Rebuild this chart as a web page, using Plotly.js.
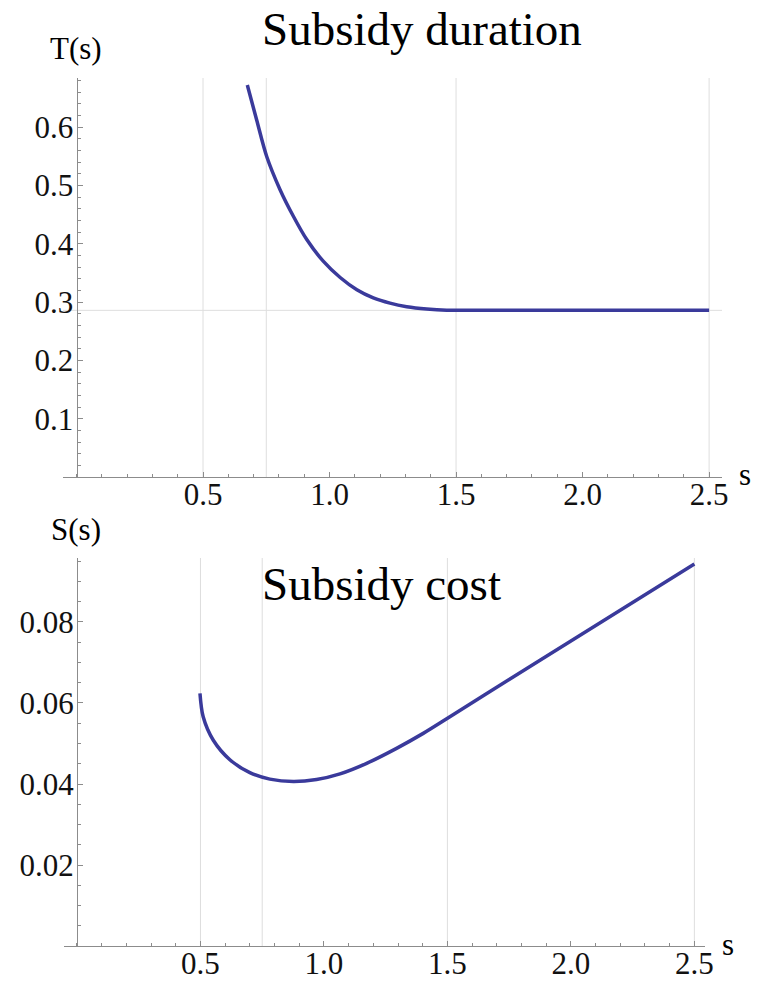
<!DOCTYPE html>
<html>
<head>
<meta charset="utf-8">
<script src="https://cdn.plot.ly/plotly-3.0.1.min.js"></script>
<style>html,body{margin:0;padding:0;background:#fff;}#chart{width:757px;height:982px;}</style>
</head>
<body>
<div id="chart"></div>
<script>
// ---- data ----
const durationS = [0.675, 0.712, 0.752, 0.804, 0.857, 0.910, 0.975, 1.042, 1.108, 1.173, 1.239, 1.305, 1.384, 1.463, 1.50, 2.00, 2.50];
const durationT = [0.672, 0.612, 0.549, 0.493, 0.447, 0.407, 0.370, 0.342, 0.321, 0.307, 0.298, 0.292, 0.288, 0.286, 0.286, 0.286, 0.286];

const costS = [0.498, 0.511, 0.552, 0.619, 0.700, 0.781, 0.876, 0.970, 1.065, 1.173, 1.294, 1.402, 1.510, 1.75, 2.00, 2.25, 2.50];
const costC = [0.0624, 0.0566, 0.0508, 0.0460, 0.0428, 0.0412, 0.0406, 0.0411, 0.0425, 0.0451, 0.0488, 0.0525, 0.0566, 0.0658, 0.0753, 0.0848, 0.0943];

const xTickVals = [0.5, 1.0, 1.5, 2.0, 2.5];
const xTickText = ["0.5", "1.0", "1.5", "2.0", "2.5"];
const yTopTickVals = [0.1, 0.2, 0.3, 0.4, 0.5, 0.6];
const yTopTickText = ["0.1", "0.2", "0.3", "0.4", "0.5", "0.6"];
const yBotTickVals = [0.02, 0.04, 0.06, 0.08];
const yBotTickText = ["0.02", "0.04", "0.06", "0.08"];

const gridX = [0.5, 0.75, 1.5, 2.5];
const gridYTop = [0.2857];

// ---- layout helpers ----
const W = 757, H = 982;
const px = v => v / W;
const py = v => 1 - v / H;
const FONT = "Liberation Serif, Times New Roman, serif";
const lineColor = "rgb(58,58,155)";
const axisGray = "#8c8c8c";
const gridGray = "#dedede";

const baseX = {
  showgrid: false, zeroline: false, showline: true, linecolor: axisGray, linewidth: 1,
  ticks: "inside", ticklen: 5, tickcolor: axisGray, tickwidth: 1,
  tickmode: "array", tickvals: xTickVals, ticktext: xTickText,
  tickfont: {family: FONT, size: 31, color: "#111"},
  ticklabelstandoff: -10,
  minor: {tickmode: "linear", tick0: 0, dtick: 0.1, ticks: "inside", ticklen: 3, tickcolor: axisGray, showgrid: false},
  fixedrange: true
};

const traces = [
  {x: durationS, y: durationT, xaxis: "x", yaxis: "y", mode: "lines", line: {color: lineColor, width: 3.5, shape: "spline", smoothing: 0.9}, hoverinfo: "skip"},
  {x: costS, y: costC, xaxis: "x2", yaxis: "y2", mode: "lines", line: {color: lineColor, width: 3.5, shape: "spline", smoothing: 0.9}, hoverinfo: "skip"}
];

const shapes = [];
gridX.forEach(g => {
  shapes.push({type: "line", xref: "x", yref: "y domain", x0: g, x1: g, y0: 0, y1: 1, line: {color: gridGray, width: 1}, layer: "below"});
  shapes.push({type: "line", xref: "x2", yref: "y2 domain", x0: g, x1: g, y0: 0, y1: 1, line: {color: gridGray, width: 1}, layer: "below"});
});
gridYTop.forEach(g => {
  shapes.push({type: "line", xref: "x domain", yref: "y", x0: 0, x1: 1, y0: g, y1: g, line: {color: gridGray, width: 1}, layer: "below"});
});

const ann = (text, x, y, size, xanchor) => ({
  text, x: px(x), y: py(y), xref: "paper", yref: "paper", showarrow: false,
  xanchor: xanchor || "center", yanchor: "middle", font: {family: FONT, size, color: "#000"}
});

const yBase = {
  showgrid: false, zeroline: false, showline: true, linecolor: axisGray, linewidth: 1,
  ticks: "inside", ticklen: 5, tickcolor: axisGray, tickmode: "array",
  tickfont: {family: FONT, size: 31, color: "#111"},
  ticklabelstandoff: -3,
  fixedrange: true
};

const layout = {
  width: W, height: H,
  margin: {l: 0, r: 0, t: 0, b: 0},
  paper_bgcolor: "#fff", plot_bgcolor: "#fff",
  showlegend: false,
  xaxis: Object.assign({}, baseX, {domain: [px(63), px(722)], range: [-0.0534, 2.551], anchor: "y"}),
  yaxis: Object.assign({}, yBase, {
    domain: [py(477), py(78)], range: [0, 0.684], anchor: "free", position: px(76.5),
    tickvals: yTopTickVals, ticktext: yTopTickText,
    minor: {tickmode: "linear", tick0: 0, dtick: 0.02, ticks: "inside", ticklen: 3, tickcolor: axisGray, showgrid: false}
  }),
  xaxis2: Object.assign({}, baseX, {domain: [px(64), px(705)], range: [-0.0526, 2.543], anchor: "y2"}),
  yaxis2: Object.assign({}, yBase, {
    domain: [py(946), py(558)], range: [0, 0.0958], anchor: "free", position: px(77),
    tickvals: yBotTickVals, ticktext: yBotTickText,
    minor: {tickmode: "linear", tick0: 0, dtick: 0.005, ticks: "inside", ticklen: 3, tickcolor: axisGray, showgrid: false}
  }),
  shapes: shapes,
  annotations: [
    ann("Subsidy duration", 260, 29, 47, "left"),
    ann("Subsidy cost", 260, 584, 47, "left"),
    ann("T(s)", 76, 48.5, 31),
    ann("S(s)", 76, 529.5, 31),
    ann("s", 745, 474.5, 31),
    ann("s", 728, 944.5, 31)
  ]
};

Plotly.newPlot("chart", traces, layout, {displayModeBar: false, staticPlot: true});
</script>
</body>
</html>
